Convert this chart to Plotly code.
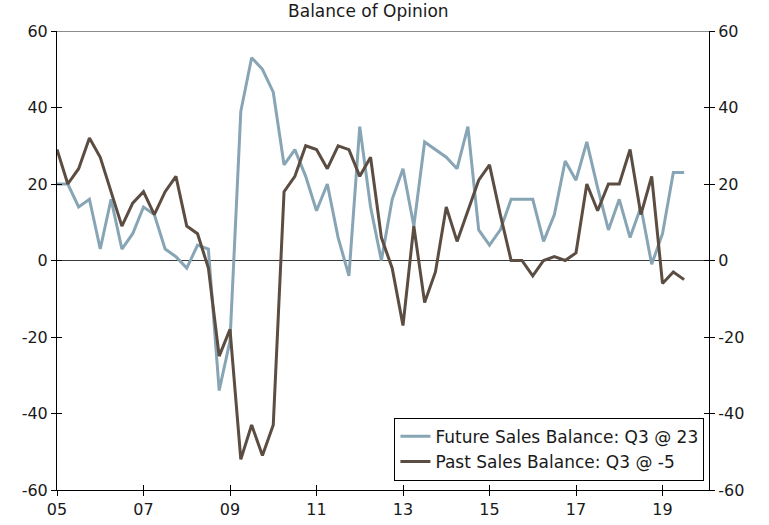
import plotly.graph_objects as go

quarters = list(range(59))  # 2005Q1 .. 2019Q3
tick_pos = [0, 8, 16, 24, 32, 40, 48, 56]
tick_labels = ["05", "07", "09", "11", "13", "15", "17", "19"]
y_ticks = [-60, -40, -20, 0, 20, 40, 60]
y_tick_labels = ["-60", "-40", "-20", "0", "20", "40", "60"]

future_sales = [20, 20, 14, 16, 3, 16, 3, 7, 14, 12,
                3, 1, -2, 4, 3, -34, -21, 39, 53, 50,
                44, 25, 29, 22, 13, 20, 6, -4, 35, 14,
                0, 16, 24, 9, 31, 29, 27, 24, 35, 8,
                4, 8, 16, 16, 16, 5, 12, 26, 21, 31,
                19, 8, 16, 6, 14, -1, 7, 23, 23]
past_sales = [29, 20, 24, 32, 27, 18, 9, 15, 18, 12,
              18, 22, 9, 7, -2, -25, -18, -52, -43, -51,
              -43, 18, 22, 30, 29, 24, 30, 29, 22, 27,
              6, -2, -17, 9, -11, -3, 14, 5, 13, 21,
              25, 12, 0, 0, -4, 0, 1, 0, 2, 20,
              13, 20, 20, 29, 12, 22, -6, -3, -5]

BLUE = "#87A5B5"
BROWN = "#5C4D43"
FONT = "Verdana, DejaVu Sans, sans-serif"

fig = go.Figure()
fig.add_trace(go.Scatter(x=quarters, y=future_sales, mode="lines",
                         name="Future Sales Balance: Q3 @ 23",
                         line=dict(color=BLUE, width=3), xaxis="x", yaxis="y"))
fig.add_trace(go.Scatter(x=quarters, y=past_sales, mode="lines",
                         name="Past Sales Balance: Q3 @ -5",
                         line=dict(color=BROWN, width=3), xaxis="x", yaxis="y2"))

xr = [0, 60.3]
yr = [-60, 60]
common_y = dict(range=yr, tickvals=y_ticks, ticktext=y_tick_labels,
                showgrid=False, zeroline=False, automargin=False,
                linecolor="#000000", linewidth=1, tickcolor="#000000",
                ticklen=5, tickwidth=1)

fig.update_layout(
    width=769, height=525, autosize=False,
    margin=dict(l=57, r=60, t=31, b=35, autoexpand=False),
    paper_bgcolor="white", plot_bgcolor="white",
    font=dict(family=FONT, size=16, color="#1a1a1a"),
    title=dict(text="Balance of Opinion", x=0.479, xref="container",
               xanchor="center", y=0.979, yanchor="middle",
               font=dict(family=FONT, size=17, color="#1a1a1a")),
    showlegend=True,
    legend=dict(x=0.993, y=0.02, xanchor="right", yanchor="bottom",
                bordercolor="#000000", borderwidth=1, bgcolor="white",
                font=dict(family=FONT, size=17, color="#1a1a1a"),
                tracegroupgap=0, itemwidth=30),
    xaxis=dict(range=xr, tickvals=tick_pos, ticktext=tick_labels,
               showgrid=False, zeroline=False, showline=True, automargin=False,
               linecolor="#000000", linewidth=1, ticks="outside",
               tickcolor="#000000", ticklen=5, tickwidth=1),
    xaxis2=dict(range=xr, tickvals=tick_pos, overlaying="x", side="bottom",
                showticklabels=False, showgrid=False, zeroline=False,
                automargin=False,
                showline=False, ticks="inside", tickcolor="#000000",
                ticklen=5, tickwidth=1, anchor="y"),
    yaxis=dict(side="left", showline=True, ticks="outside", **common_y),
    yaxis2=dict(side="right", overlaying="y", anchor="x", showline=True,
                ticks="outside", **common_y),
    yaxis3=dict(side="left", overlaying="y", anchor="x", showline=False,
                ticks="inside", showticklabels=False, **common_y),
    yaxis4=dict(side="right", overlaying="y", anchor="x", showline=False,
                ticks="inside", showticklabels=False, **common_y),
)

# invisible helper traces so the inner-tick axes get drawn
fig.add_trace(go.Scatter(x=[None], y=[None], xaxis="x2", yaxis="y3",
                         showlegend=False, hoverinfo="skip"))
fig.add_trace(go.Scatter(x=[None], y=[None], xaxis="x2", yaxis="y4",
                         showlegend=False, hoverinfo="skip"))

# zero line and grey top border
fig.add_hline(y=0, line=dict(color="#3a3a3a", width=1), layer="below")
fig.add_shape(type="line", xref="paper", yref="y", x0=0, x1=1, y0=60, y1=60,
              line=dict(color="#8c8c8c", width=2), layer="below")

fig.write_html("out.html",
               config={"displayModeBar": False, "responsive": False},
               post_script="document.body.style.margin='0';"
                           "document.body.style.padding='0';"
                           "document.documentElement.style.overflow='hidden';")
